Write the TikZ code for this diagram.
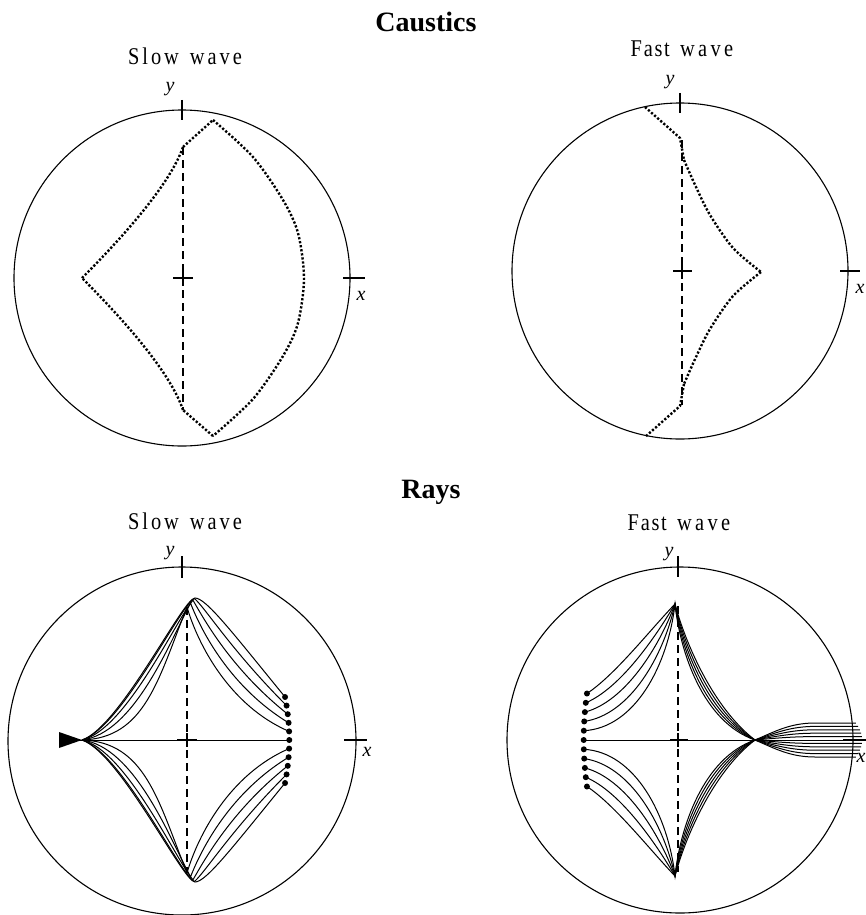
\documentclass[tikz,border=0pt]{standalone}
\usepackage{fontspec}
\usepackage{graphicx}
\setmainfont{Liberation Serif}
\newcommand\slowtxt{\scalebox{0.85}[1]{S\kern3.5pt l\kern3.5pt o\kern3.5pt w\kern3.5pt\ \kern3.5pt w\kern3.5pt a\kern3.5pt v\kern3.5pt e}}
\newcommand\fasttxt{\scalebox{0.85}[1]{F\kern2pt a\kern2pt s\kern2pt t\kern3pt\ \kern3pt w\kern4pt a\kern4pt v\kern4pt e}}
\begin{document}
\begin{tikzpicture}[x=1pt,y=-1pt,
 circ/.style={line width=1.1pt},
 axtick/.style={line width=1.1pt},
 crossl/.style={line width=1.8pt},
 dashv/.style={line width=2.6pt,dash pattern=on 8pt off 5pt},
 caust/.style={line width=2.4pt,dash pattern=on 2.2pt off 1.9pt},
 ray/.style={line width=1pt},
 ttl/.style={font=\fontsize{28}{30}\selectfont\bfseries,anchor=base,inner sep=0pt},
 subt/.style={font=\fontsize{24}{26}\selectfont,anchor=base,inner sep=0pt},
 axl/.style={font=\fontsize{20}{22}\selectfont\itshape,inner sep=0pt}]
\useasboundingbox (0,0) rectangle (866,915);

% ---------- titles ----------
\node[ttl] (tcaus) at (426,32) {Caustics};
\node[ttl] (trays) at (431,498) {Rays};
\node[subt] (s1) at (185,65) {\slowtxt};
\node[subt] (s2) at (682,57) {\fasttxt};
\node[subt] (s3) at (185,529) {\slowtxt};
\node[subt] (s4) at (679,530) {\fasttxt};

% ---------- caustics: slow wave ----------
\draw[circ] (182,278) circle[radius=168pt];
\draw[axtick] (182,100) -- (182,120);
\draw[axtick] (343,278) -- (365,278);
\node[axl] (ya) at (170,89) {y};
\node[axl] (xa) at (361,296) {x};
\draw[crossl] (173,278) -- (193,278);
\draw[crossl] (183,270) -- (183,286);
\draw[dashv] (183,147) -- (183,410);
\draw[caust] (183,147) -- (213,120);
\draw[caust] plot[smooth] coordinates {(213,120) (253,157) (283,200) (298,233) (304,278) (298,323) (283,356) (253,399) (213,436)};
\draw[caust] (213,436) -- (183,410);
\draw[caust] (183,410) .. controls (170,371) and (120,316) .. (82,278);
\draw[caust] (82,278) .. controls (120,240) and (170,185) .. (183,147);

% ---------- caustics: fast wave ----------
\draw[circ] (680,271) circle[radius=168pt];
\draw[axtick] (680,93) -- (680,113);
\draw[axtick] (840,271) -- (860,271);
\node[axl] (yb) at (670,82) {y};
\node[axl] (xb) at (860,289) {x};
\draw[crossl] (673,271) -- (692,271);
\draw[crossl] (682,263) -- (682,279);
\draw[dashv] (682,140) -- (682,405);
\draw[caust] (645,107) -- (680,138) -- (684,160);
\draw[caust] plot[smooth] coordinates {(684,160) (696,187) (710,215) (733,248) (761,272)};
\draw[caust] plot[smooth] coordinates {(761,272) (733,296) (710,329) (696,357) (684,384)};
\draw[caust] (684,384) -- (680,406) -- (645,437);

% ---------- rays: slow wave ----------
\draw[circ] (182,741) circle[radius=174pt];
\draw[axtick] (182,556) -- (182,578);
\draw[axtick] (344,740) -- (367,740);
\node[axl] (yc) at (170,553) {y};
\node[axl] (xc) at (367,752) {x};
\draw[dashv] (187,607) -- (187,873);
\draw[crossl] (177,740) -- (197,740);
\draw[crossl] (187,733) -- (187,747);
\fill (59,732) -- (82,740) -- (59,748) -- cycle;
\draw[ray] (59,740) -- (289,740);
\foreach \s in {1,-1}{
 \foreach \k in {1,...,5}{
  \pgfmathsetmacro\rU{(\k-1)/4}
  \pgfmathsetmacro\rL{1-(1-\rU)^2}
  \pgfmathsetmacro\rAx{187+8*\rL}
  \pgfmathsetmacro\rAyy{607-9*\rL}
  \pgfmathsetmacro\rAy{740+(\s)*(\rAyy-740)}
  \pgfmathsetmacro\rPx{145-25*\rL}
  \pgfmathsetmacro\rPy{740+(\s)*(738-11*\rL-740)}
  \pgfmathsetmacro\rQx{158+25*\rL}
  \pgfmathsetmacro\rQy{740+(\s)*(680-82*\rL-740)}
  \pgfmathsetmacro\rCx{\rAx+11}
  \pgfmathsetmacro\rCy{740+(\s)*(\rAyy+38*(1-\rU)-740)}
  \pgfmathsetmacro\rEx{230+2*\rU}
  \pgfmathsetmacro\rEy{740+(\s)*(706-74*\rU-740)}
  \pgfmathsetmacro\rDx{289.3-0.17*\k*\k}
  \pgfmathsetmacro\rDy{740+(\s)*(-8.6*\k)}
  \draw[ray] (82,740) .. controls (\rPx,\rPy) and (\rQx,\rQy) .. (\rAx,\rAy)
     .. controls (\rCx,\rCy) and (\rEx,\rEy) .. (\rDx,\rDy);
 }
}
\foreach \k in {-5,...,5}
  \fill ({289.3-0.17*(\k)*(\k)},{740-8.6*(\k)}) circle[radius=3pt];

% ---------- rays: fast wave ----------
\draw[circ] (680,740) circle[radius=173pt];
\draw[axtick] (678,556) -- (678,577);
\draw[axtick] (843,740) -- (866,740);
\node[axl] (yd) at (669,554) {y};
\node[axl] (xd) at (861,758) {x};
\draw[dashv] (678,606) -- (678,872);
\draw[crossl] (670,740) -- (688,740);
\draw[crossl] (678,733) -- (678,747);
\draw[ray] (584,740) -- (862,740);
\foreach \s in {1,-1}{
 \foreach \k in {1,...,5}{
  \pgfmathsetmacro\rU{(\k-1)/4}
  \pgfmathsetmacro\rDx{583.7+0.13*\k*\k}
  \pgfmathsetmacro\rDy{740+(\s)*(-9.3*\k)}
  \pgfmathsetmacro\rPx{635-20*\rU}
  \pgfmathsetmacro\rPy{740+(\s)*(728-53*\rU-740)}
  \pgfmathsetmacro\rQx{668-18*\rU}
  \pgfmathsetmacro\rQy{740+(\s)*(665-35*\rU-740)}
  \pgfmathsetmacro\rTy{740+(\s)*(604-740)}
  \pgfmathsetmacro\rCx{680+5*\rU}
  \pgfmathsetmacro\rCy{740+(\s)*(652-10*\rU-740)}
  \pgfmathsetmacro\rEx{703+10*\rU}
  \pgfmathsetmacro\rEy{740+(\s)*(722-14*\rU-740)}
  \pgfmathsetmacro\rOff{(\s)*3.4*\k}
  \pgfmathsetmacro\rEnd{862-0.25*\k*\k}
  \draw[ray] (\rDx,\rDy) .. controls (\rPx,\rPy) and (\rQx,\rQy) .. (675,\rTy)
     .. controls (\rCx,\rCy) and (\rEx,\rEy) .. (755,740)
     .. controls (775,{740+0.5*\rOff}) and (790,{740+\rOff}) .. (815,{740+\rOff})
     -- (\rEnd,{740+\rOff});
 }
}
\foreach \k in {-5,...,5}
  \fill ({583.7+0.13*(\k)*(\k)},{740-9.3*(\k)}) circle[radius=3pt];
\end{tikzpicture}
\end{document}
